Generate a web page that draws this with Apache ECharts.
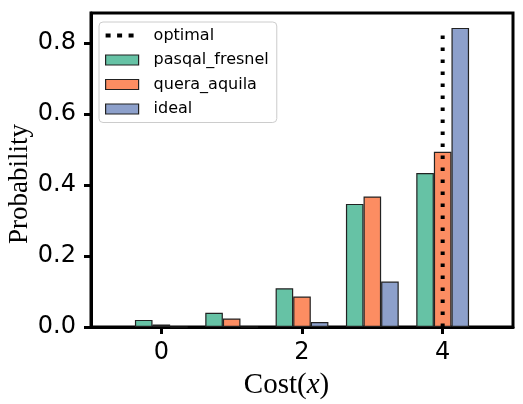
<!DOCTYPE html>
<html>
<head>
<meta charset="utf-8">
<script src="https://cdn.jsdelivr.net/npm/echarts@6/dist/echarts.min.js"></script>
<style>
  html, body { margin: 0; padding: 0; background: #fff; }
  #chart { width: 523px; height: 404px; }
</style>
</head>
<body>
<div id="chart"></div>
<script>
// costs on the x axis, one group of bars per cost
const costs = [0, 1, 2, 3, 4];
const pasqalFresnel = [0.020, 0.040, 0.109, 0.347, 0.434];
const queraAquila = [0.007, 0.024, 0.086, 0.368, 0.494];
const ideal = [0.0, 0.0, 0.014, 0.128, 0.843];
const optimalCost = 4;
const optimalSpan = [0, 0.843];
const xTicks = [0, 2, 4];
const yTicks = [0, 0.2, 0.4, 0.6, 0.8];

const chart = echarts.init(document.getElementById('chart'));

function barSeries(name, values, color) {
    return {
        name: name,
        type: 'bar',
        data: costs.map((c, i) => [c, values[i]]),
        barWidth: 17.6,
        barGap: '0%',
        itemStyle: { color: color, borderColor: '#222', borderWidth: 1.2 },
        z: 2
    };
}

// three square dots, legend marker for the dotted line
const dotsIcon = 'path://M0,0h0.01v0.01h-0.01z M33,10h0.01v0.01h-0.01z M0,3h5v4h-5z M11.5,3h5v4h-5z M23,3h5v4h-5z';
const patchStyle = { borderColor: '#222', borderWidth: 1.2 };
const tickStyle = { show: true, inside: false, length: 7, lineStyle: { color: '#000', width: 3 } };

const option = {
    animation: false,
    grid: {
        left: 91, right: 10, top: 13, bottom: 77,
        outerBoundsMode: 'none',
        show: true, borderColor: '#000', borderWidth: 3
    },
    legend: {
        orient: 'vertical',
        left: 99, top: 22,
        padding: [5, 8, 5, 6],
        itemWidth: 33, itemHeight: 10, itemGap: 7.5,
        borderColor: '#ccc', borderWidth: 1, borderRadius: 4,
        backgroundColor: 'rgba(255,255,255,0.8)',
        textStyle: { fontFamily: 'DejaVu Sans', fontSize: 16, color: '#000', lineHeight: 17, padding: [0, 0, 0, 10] },
        data: [
            { name: 'optimal', icon: dotsIcon, itemStyle: { color: '#000', borderWidth: 0 } },
            { name: 'pasqal_fresnel', icon: 'rect', itemStyle: patchStyle },
            { name: 'quera_aquila', icon: 'rect', itemStyle: patchStyle },
            { name: 'ideal', icon: 'rect', itemStyle: patchStyle }
        ]
    },
    xAxis: {
        type: 'value',
        min: -1, max: 5,
        name: '{a|Cost(}{b|x}{a|)}',
        nameLocation: 'middle',
        nameGap: 44,
        nameTextStyle: {
            padding: [0, 31, 0, 0],
            rich: {
                a: { fontFamily: 'Liberation Serif', fontSize: 29, color: '#000' },
                b: { fontFamily: 'Liberation Serif', fontSize: 29, fontStyle: 'italic', color: '#000' }
            }
        },
        splitLine: { show: false },
        axisLine: { show: true, onZero: false, lineStyle: { color: '#000', width: 3 } },
        axisTick: Object.assign({ customValues: xTicks }, tickStyle),
        axisLabel: { customValues: xTicks, margin: 14, fontFamily: 'DejaVu Sans', fontSize: 24, color: '#000' }
    },
    yAxis: {
        type: 'value',
        min: 0, max: 0.885,
        name: 'Probability',
        nameLocation: 'middle',
        nameRotate: 90,
        nameGap: 58,
        nameMoveOverlap: false,
        nameTextStyle: { fontFamily: 'Liberation Serif', fontSize: 27, color: '#000', padding: [0, 0, 0, -28] },
        splitLine: { show: false },
        axisLine: { show: true, onZero: false, lineStyle: { color: '#000', width: 3 } },
        axisTick: Object.assign({ customValues: yTicks }, tickStyle),
        axisLabel: {
            customValues: yTicks, margin: 15,
            fontFamily: 'DejaVu Sans', fontSize: 24, color: '#000',
            formatter: v => v.toFixed(1)
        }
    },
    series: [
        {
            name: 'optimal',
            type: 'line',
            data: optimalSpan.map(p => [optimalCost, p]),
            symbol: 'none',
            lineStyle: { color: '#000', width: 4, type: [3.5, 8.5] },
            itemStyle: { color: '#000' },
            z: 5
        },
        barSeries('pasqal_fresnel', pasqalFresnel, '#66c2a5'),
        barSeries('quera_aquila', queraAquila, '#fc8d62'),
        barSeries('ideal', ideal, '#8da0cb')
    ]
};

chart.setOption(option);
</script>
</body>
</html>
